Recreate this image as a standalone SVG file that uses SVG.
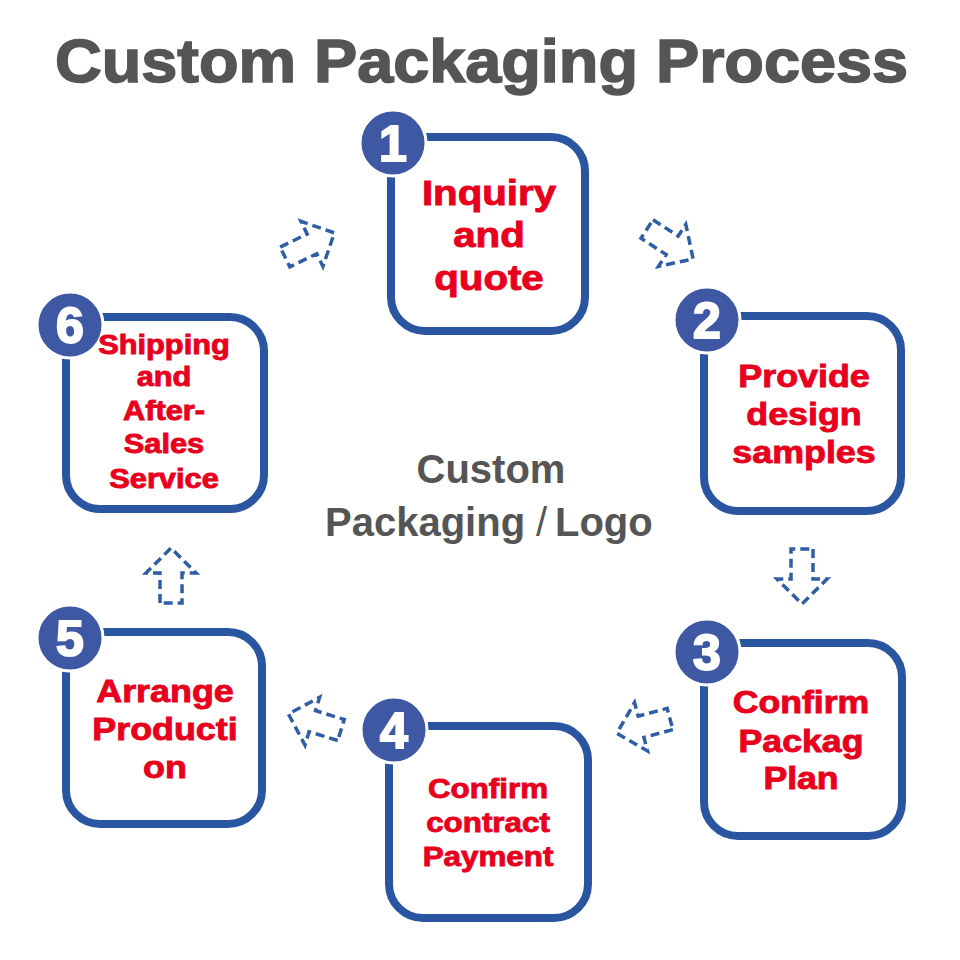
<svg xmlns="http://www.w3.org/2000/svg" width="960" height="960" viewBox="0 0 960 960">
<defs>
<style>
.box{fill:#fff;stroke:#2A55A0;stroke-width:8}
.num{fill:#3F58A4;stroke:#fff;stroke-width:3}
.numt{fill:#fff;stroke:#fff;stroke-width:2;font-family:"Liberation Sans",Arial,sans-serif;font-weight:bold;font-size:50px;text-anchor:middle}
.lbl{fill:#E8001C;stroke:#E8001C;stroke-width:0.9;font-family:"Liberation Sans",Arial,sans-serif;font-weight:bold;text-anchor:middle}
.arr{fill:none;stroke:#2F5DA6;stroke-width:3.5;stroke-dasharray:9 5;stroke-linejoin:miter}
.gray{fill:#555;font-family:"Liberation Sans",Arial,sans-serif;font-weight:bold}
</style>
<path id="blk" d="M0,-11 H30 V-25 L55,0 L30,25 V11 H0 Z"/>
</defs>
<rect width="960" height="960" fill="#fff"/>
<text class="gray" x="55" y="82" font-size="62" stroke="#555" stroke-width="1.6" textLength="853" lengthAdjust="spacingAndGlyphs">Custom Packaging Process</text>

<g id="connectors">
<use href="#blk" class="arr" transform="translate(285,257) rotate(-26)"/>
<use href="#blk" class="arr" transform="translate(647,229) rotate(33)"/>
<use href="#blk" class="arr" transform="translate(802,549) rotate(90)"/>
<use href="#blk" class="arr" transform="translate(670,719) rotate(165)"/>
<use href="#blk" class="arr" transform="translate(341,730) rotate(197)"/>
<use href="#blk" class="arr" transform="translate(171,603) rotate(-90)"/>
</g>

<g id="center">
<text class="gray" x="491" y="483" font-size="40" text-anchor="middle">Custom</text>
<text class="gray" y="536" font-size="40"><tspan x="325">Packaging</tspan><tspan x="536" font-weight="normal">/</tspan><tspan x="555">Logo</tspan></text>
</g>

<g id="step1">
<rect class="box" x="391" y="137" width="194" height="194" rx="34"/>
<circle class="num" cx="393" cy="143" r="33"/>
<text class="numt" x="393" y="161">1</text>
<g transform="translate(489,0) scale(1.15,1)" class="lbl" font-size="35">
<text x="0" y="205">Inquiry</text>
<text x="0" y="247">and</text>
<text x="0" y="290">quote</text>
</g>
</g>

<g id="step2">
<rect class="box" x="704" y="316" width="197" height="195" rx="34"/>
<circle class="num" cx="707" cy="320" r="33"/>
<text class="numt" x="707" y="338">2</text>
<g transform="translate(804,0) scale(1.12,1)" class="lbl" font-size="32">
<text x="0" y="387">Provide</text>
<text x="0" y="425">design</text>
<text x="0" y="463">samples</text>
</g>
</g>

<g id="step3">
<rect class="box" x="704" y="643" width="198" height="193" rx="34"/>
<circle class="num" cx="707" cy="652" r="33"/>
<text class="numt" x="707" y="670">3</text>
<g transform="translate(801,0) scale(1.15,1)" class="lbl" font-size="31">
<text x="0" y="713">Confirm</text>
<text x="0" y="752">Packag</text>
<text x="0" y="789">Plan</text>
</g>
</g>

<g id="step4">
<rect class="box" x="389" y="726" width="199" height="192" rx="34"/>
<circle class="num" cx="394" cy="730" r="33"/>
<text class="numt" x="394" y="748">4</text>
<g transform="translate(488,0) scale(1.12,1)" class="lbl" font-size="28">
<text x="0" y="798">Confirm</text>
<text x="0" y="832">contract</text>
<text x="0" y="866">Payment</text>
</g>
</g>

<g id="step5">
<rect class="box" x="66" y="632" width="196" height="192" rx="34"/>
<circle class="num" cx="70" cy="638" r="33"/>
<text class="numt" x="70" y="656">5</text>
<g transform="translate(165,0) scale(1.12,1)" class="lbl" font-size="32">
<text x="0" y="702">Arrange</text>
<text x="0" y="740">Producti</text>
<text x="0" y="778">on</text>
</g>
</g>

<g id="step6">
<rect class="box" x="66" y="317" width="198" height="192" rx="34"/>
<circle class="num" cx="70" cy="325" r="33"/>
<text class="numt" x="70" y="343">6</text>
<g transform="translate(164,0) scale(1.14,1)" class="lbl" font-size="27">
<text x="0" y="354">Shipping</text>
<text x="0" y="386">and</text>
<text x="0" y="420">After-</text>
<text x="0" y="453">Sales</text>
<text x="0" y="488">Service</text>
</g>
</g>
</svg>
